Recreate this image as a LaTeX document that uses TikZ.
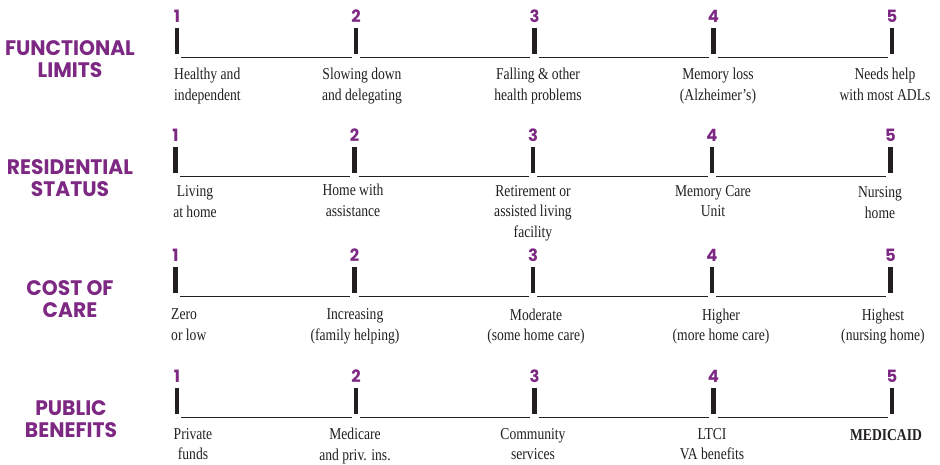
\documentclass[tikz,border=0pt]{standalone}
\usepackage{fontspec}
\setmainfont{Liberation Serif}[FakeStretch=0.82]
\newfontfamily\hfont{Poppins}[FakeStretch=0.965]
\usetikzlibrary{calc}
\definecolor{purp}{RGB}{125,40,130}
\definecolor{ink}{RGB}{35,31,32}
\begin{document}
\begin{tikzpicture}[x=1pt,y=-1pt,
  head/.style={font=\hfont\bfseries\fontsize{21}{22}\selectfont, text=purp, align=center, inner sep=0pt, anchor=north},
  num/.style={font=\hfont\bfseries\fontsize{17}{17}\selectfont, text=purp, inner sep=0pt},
  tickbar/.style={fill=ink, draw=none, minimum width=4.5pt, minimum height=26pt, inner sep=0pt},
  seg/.style={draw=ink, line width=1.2pt},
  lab/.style={font=\fontsize{16.6}{20.5}\selectfont, text=ink, align=center, inner sep=0pt, anchor=north}]
\useasboundingbox (0,0) rectangle (940,464);

\foreach \r/\ty/\dx in {1/28/0, 2/147/-1.5, 3/267/-1.5, 4/388/0} {
  \foreach \i/\x in {1/177,2/356,3/534.5,4/713.5,5/892} {
    \node[tickbar] (t\r\i) at (\x+\dx, \ty+13) {};
    \node[num] (n\r\i) at (\x+\dx, \ty-12) {\i};
  }
  \foreach \i [count=\j from 2] in {1,...,4} {
    \draw[seg] ($(t\r\i.south east)+(2,3)$) -- ($(t\r\j.south west)+(-2,3)$);
  }
}

\node[head] (h1) at (70,40) {FUNCTIONAL\\LIMITS};
\node[head] (h2) at (70,159) {RESIDENTIAL\\STATUS};
\node[head] (h3) at (70,280) {COST OF\\CARE};
\node[head] (h4) at (71,400) {PUBLIC\\BENEFITS};

\node[lab, anchor=north west, align=left] (l11) at (174,68) {Healthy and\\independent};
\node[lab] (l12) at (362,68) {Slowing down\\and delegating};
\node[lab] (l13) at (538,68) {Falling \& other\\health problems};
\node[lab] (l14) at (718,68) {Memory loss\\(Alzheimer’s)};
\node[lab] (l15) at (885,68) {Needs help\\with most ADLs};

\node[lab] (l21) at (195,185.5) {Living\\at home};
\node[lab] (l22) at (353,184) {Home with\\assistance};
\node[lab] (l23) at (533,185) {Retirement or\\assisted living\\facility};
\node[lab] (l24) at (713,185) {Memory Care\\Unit};
\node[lab] (l25) at (880,186.5) {Nursing\\home};

\node[lab, anchor=north west, align=left] (l31) at (171,308.5) {Zero\\or low};
\node[lab] (l32) at (355,308.5) {Increasing\\(family helping)};
\node[lab] (l33) at (536,308.5) {Moderate\\(some home care)};
\node[lab] (l34) at (721,308.5) {Higher\\(more home care)};
\node[lab] (l35) at (883,308.5) {Highest\\(nursing home)};

\node[lab] (l41) at (193,428) {Private\\funds};
\node[lab] (l42) at (355,428) {Medicare\\and priv. ins.};
\node[lab] (l43) at (533,428) {Community\\services};
\node[lab] (l44) at (712,428) {LTCI\\VA benefits};
\node[lab] (l45) at (886,429) {\bfseries MEDICAID};
\end{tikzpicture}
\end{document}
